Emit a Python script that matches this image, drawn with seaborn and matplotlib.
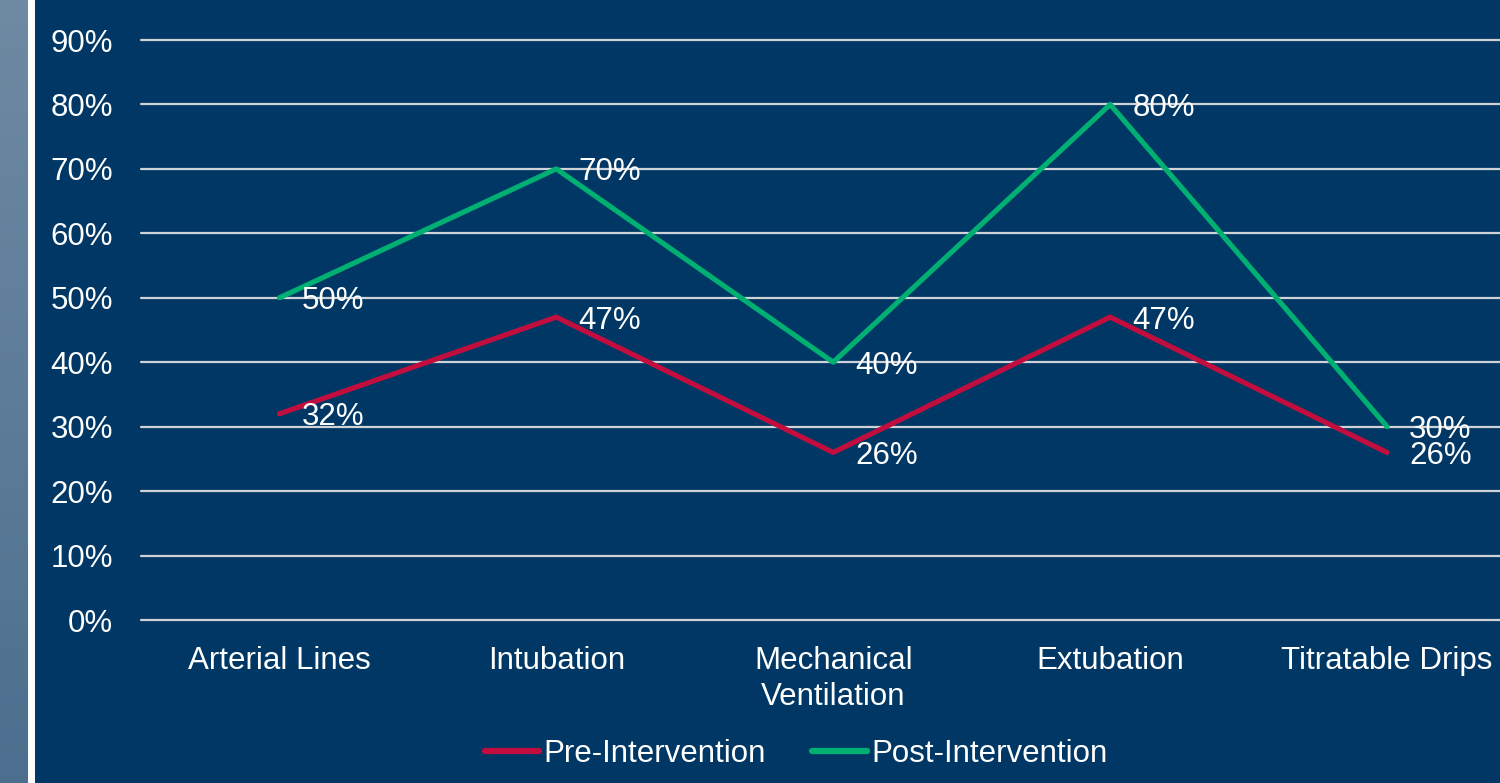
import numpy as np
import pandas as pd
import matplotlib
matplotlib.use("Agg")
import matplotlib.pyplot as plt
from matplotlib.patches import Rectangle
from matplotlib.lines import Line2D
from matplotlib.colors import LinearSegmentedColormap
import seaborn as sns

categories = ["Arterial Lines", "Intubation", "Mechanical\nVentilation", "Extubation", "Titratable Drips"]
pre_values = [0.32, 0.47, 0.26, 0.47, 0.26]
post_values = [0.50, 0.70, 0.40, 0.80, 0.30]
series_names = ["Pre-Intervention", "Post-Intervention"]
y_ticks = [0.0, 0.1, 0.2, 0.3, 0.4, 0.5, 0.6, 0.7, 0.8, 0.9]

BG = "#003764"
RED = "#c20e3e"
GREEN = "#00b073"
GRID = "#cfd3d8"

sns.set_theme(style="white")
plt.rcParams["font.family"] = ["Liberation Sans", "DejaVu Sans"]

df = pd.DataFrame({
    "cat": categories * 2,
    "val": pre_values + post_values,
    "series": [series_names[0]] * len(categories) + [series_names[1]] * len(categories),
})

W, H = 1500, 783
fig = plt.figure(figsize=(15, 7.83), dpi=100, facecolor=BG)

# left decorative strip with gradient
sax = fig.add_axes([0, 0, 28 / W, 1])
grad = np.linspace(0, 1, 256).reshape(-1, 1)
cmap = LinearSegmentedColormap.from_list("strip", ["#6f8aa3", "#4c6f8f"])
sax.imshow(grad, aspect="auto", cmap=cmap, extent=[0, 1, 0, 1])
sax.set_axis_off()
fig.patches.append(Rectangle((28 / W, 0), 7 / W, 1, transform=fig.transFigure,
                             facecolor="white", edgecolor="none", zorder=1))

left = 141 / W
right = 1525.5 / W
bottom = (H - 620) / H
top = (H - 40) / H
ax = fig.add_axes([left, bottom, right - left, top - bottom])
ax.set_facecolor(BG)

sns.lineplot(data=df, x="cat", y="val", hue="series", palette=[RED, GREEN],
             linewidth=3.7, sort=False, ax=ax, legend=False, zorder=3,
             solid_capstyle="round")

for vals in (pre_values, post_values):
    for i, v in enumerate(vals):
        ax.annotate(f"{round(v * 100):d}%", (i, v), xytext=(16, -2.5),
                    textcoords="offset points", ha="left", va="center",
                    color="white", fontsize=22.5, zorder=5)

ax.set_xlim(-0.5, len(categories) - 0.5)
ax.set_ylim(0, 0.9)
ax.set_yticks(y_ticks)
ax.set_yticklabels([f"{round(t * 100):d}%" for t in y_ticks])
ax.yaxis.grid(True, color=GRID, linewidth=1.6)
ax.xaxis.grid(False)
for gl in ax.get_ygridlines():
    gl.set_clip_on(False)
for s in ax.spines.values():
    s.set_visible(False)
ax.tick_params(axis="y", length=0, pad=20, labelsize=22.5, labelcolor="white")
ax.tick_params(axis="x", length=0, pad=19, labelsize=22.5, labelcolor="white")
for lab in ax.get_xticklabels():
    lab.set_linespacing(1.25)
ax.set_xlabel("")
ax.set_ylabel("")

handles = [Line2D([], [], color=RED, linewidth=4.5, solid_capstyle="round"),
           Line2D([], [], color=GREEN, linewidth=4.5, solid_capstyle="round")]
leg = fig.legend(handles, series_names, loc="center", bbox_to_anchor=(796 / W, 1 - 754 / H),
                 ncol=2, frameon=False, handlelength=1.75, handletextpad=0.12,
                 columnspacing=1.5, prop={"size": 22.5})
for t in leg.get_texts():
    t.set_color("white")

fig.savefig("out.png", dpi=100, facecolor=BG)
